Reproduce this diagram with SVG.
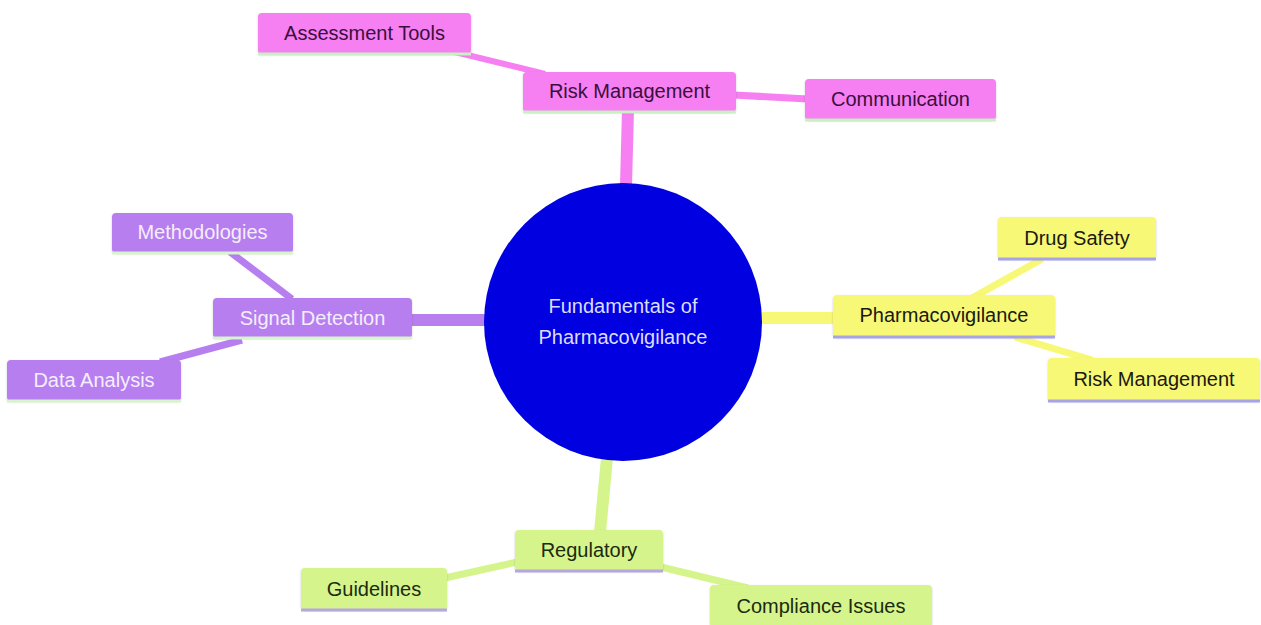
<svg xmlns="http://www.w3.org/2000/svg" width="1261" height="625" viewBox="0 0 1261 625">
<defs>
<style>
text{font-family:"Liberation Sans",Arial,sans-serif;font-size:20px;text-anchor:middle;dominant-baseline:central}
.pk rect.b{fill:#f67ff1}
.pk line.u{stroke:#c9f0c4}
.pk text{fill:#3a0f3e}
.pu rect.b{fill:#b77ef0}
.pu line.u{stroke:#d8f4cc}
.pu text{fill:#f4eefc}
.ye rect.b{fill:#f8f877}
.ye line.u{stroke:#a7a3e6}
.ye text{fill:#1a1a10}
.gr rect.b{fill:#d5f58c}
.gr line.u{stroke:#b6a8de}
.gr text{fill:#1c2a10}
line.u{stroke-width:3}
.c line{stroke-linecap:butt}
</style>
<filter id="sh" x="-10%" y="-20%" width="120%" height="150%">
<feDropShadow dx="0" dy="1" stdDeviation="1.2" flood-color="#000" flood-opacity="0.18"/>
</filter>
</defs>
<rect width="1261" height="625" fill="#fff"/>
<g id="connectors" class="c">
<line x1="628" y1="110" x2="626" y2="185" stroke="#f67ff1" stroke-width="12"/>
<line x1="455" y1="52" x2="545" y2="74" stroke="#f67ff1" stroke-width="6"/>
<line x1="734" y1="95" x2="808" y2="99" stroke="#f67ff1" stroke-width="7"/>
<line x1="410" y1="320" x2="486" y2="320" stroke="#b77ef0" stroke-width="12"/>
<line x1="230" y1="252" x2="292" y2="299" stroke="#b77ef0" stroke-width="7"/>
<line x1="160" y1="362" x2="242" y2="340" stroke="#b77ef0" stroke-width="7"/>
<line x1="760" y1="318" x2="835" y2="318" stroke="#f8f877" stroke-width="12"/>
<line x1="1042" y1="259" x2="972" y2="298" stroke="#f8f877" stroke-width="7"/>
<line x1="1015" y1="337" x2="1092" y2="360" stroke="#f8f877" stroke-width="7"/>
<line x1="607" y1="458" x2="600" y2="532" stroke="#d5f58c" stroke-width="12"/>
<line x1="445" y1="578" x2="517" y2="562" stroke="#d5f58c" stroke-width="7"/>
<line x1="661" y1="567" x2="748" y2="588" stroke="#d5f58c" stroke-width="7"/>
</g>
<g id="root">
<circle cx="623" cy="322" r="139" fill="#0000e0"/>
<text x="623" y="306" fill="#dcdcff">Fundamentals of</text>
<text x="623" y="337" fill="#dcdcff">Pharmacovigilance</text>
</g>
<g id="risk-management" class="pk">
<rect class="b" x="523" y="72" width="213" height="40" rx="4" filter="url(#sh)"/>
<line class="u" x1="523" y1="112" x2="736" y2="112"/>
<text x="629.5" y="91">Risk Management</text>
</g>
<g id="assessment-tools" class="pk">
<rect class="b" x="258" y="13" width="213" height="41" rx="4" filter="url(#sh)"/>
<line class="u" x1="258" y1="54" x2="471" y2="54"/>
<text x="364.5" y="33">Assessment Tools</text>
</g>
<g id="communication" class="pk">
<rect class="b" x="805" y="79" width="191" height="41" rx="4" filter="url(#sh)"/>
<line class="u" x1="805" y1="120" x2="996" y2="120"/>
<text x="900.5" y="99">Communication</text>
</g>
<g id="signal-detection" class="pu">
<rect class="b" x="213" y="298" width="199" height="40" rx="4" filter="url(#sh)"/>
<line class="u" x1="213" y1="338" x2="412" y2="338"/>
<text x="312.5" y="318">Signal Detection</text>
</g>
<g id="methodologies" class="pu">
<rect class="b" x="112" y="213" width="181" height="40" rx="4" filter="url(#sh)"/>
<line class="u" x1="112" y1="253" x2="293" y2="253"/>
<text x="202.5" y="232">Methodologies</text>
</g>
<g id="data-analysis" class="pu">
<rect class="b" x="7" y="360" width="174" height="41" rx="4" filter="url(#sh)"/>
<line class="u" x1="7" y1="401" x2="181" y2="401"/>
<text x="94" y="380">Data Analysis</text>
</g>
<g id="pharmacovigilance" class="ye">
<rect class="b" x="833" y="295" width="222" height="42" rx="4" filter="url(#sh)"/>
<line class="u" x1="833" y1="337" x2="1055" y2="337"/>
<text x="944" y="315">Pharmacovigilance</text>
</g>
<g id="drug-safety" class="ye">
<rect class="b" x="998" y="217" width="158" height="42" rx="4" filter="url(#sh)"/>
<line class="u" x1="998" y1="259" x2="1156" y2="259"/>
<text x="1077" y="238">Drug Safety</text>
</g>
<g id="risk-management-2" class="ye">
<rect class="b" x="1048" y="358" width="212" height="43" rx="4" filter="url(#sh)"/>
<line class="u" x1="1048" y1="401" x2="1260" y2="401"/>
<text x="1154" y="379">Risk Management</text>
</g>
<g id="regulatory" class="gr">
<rect class="b" x="515" y="530" width="148" height="41" rx="4" filter="url(#sh)"/>
<line class="u" x1="515" y1="571" x2="663" y2="571"/>
<text x="589" y="550">Regulatory</text>
</g>
<g id="guidelines" class="gr">
<rect class="b" x="301" y="568" width="146" height="42" rx="4" filter="url(#sh)"/>
<line class="u" x1="301" y1="610" x2="447" y2="610"/>
<text x="374" y="589">Guidelines</text>
</g>
<g id="compliance-issues" class="gr">
<rect class="b" x="710" y="585" width="222" height="42" rx="4" filter="url(#sh)"/>
<text x="821" y="606">Compliance Issues</text>
</g>
</svg>
